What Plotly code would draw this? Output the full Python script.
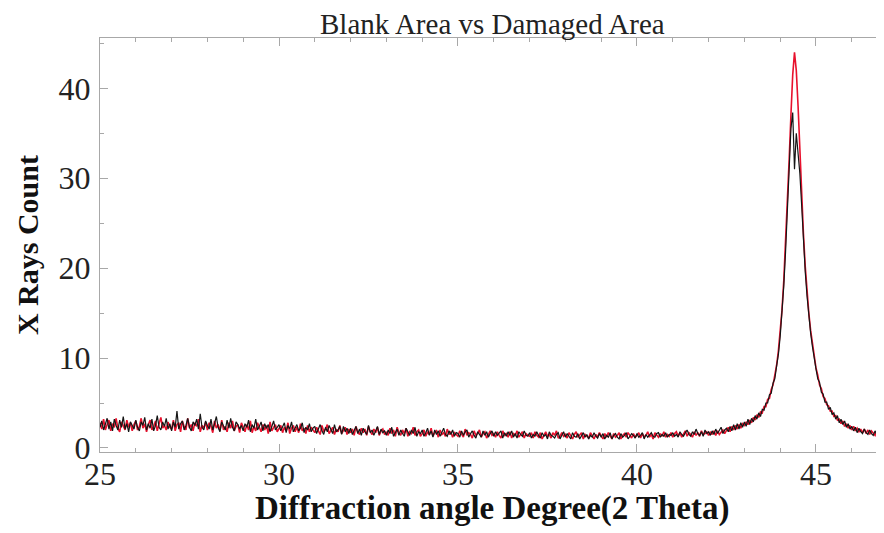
import numpy as np
import plotly.graph_objects as go

# 2-theta grid: 25.00 .. 46.90 deg, step 0.05
x_start = 25.0
x_step = 0.05

# Blank area (red) X-ray counts, one row per degree
blank_counts = [
    2.8, 2.1, 3.2, 2.0, 2.6, 3.1, 1.9, 2.7, 2.3, 3.3, 2.2, 1.8, 2.9, 2.5, 2.0, 3.1, 2.3, 2.8, 1.9, 2.6,
    3.0, 2.0, 2.4, 3.3, 2.2, 2.7, 1.8, 2.6, 3.1, 2.0, 2.4, 3.0, 1.9, 2.7, 3.4, 2.2, 2.5, 2.0, 2.9, 2.3,
    2.1, 3.1, 1.9, 2.6, 2.8, 1.8, 3.0, 2.4, 2.0, 3.3, 2.2, 2.6, 1.9, 2.8, 2.4, 3.2, 1.8, 2.5, 2.2, 2.9,
    2.0, 2.8, 2.4, 1.7, 3.0, 2.2, 2.6, 1.9, 3.1, 2.0, 2.4, 1.8, 2.8, 2.2, 3.0, 1.9, 2.4, 2.6, 1.7, 2.8,
    2.2, 1.8, 2.6, 2.0, 3.0, 1.7, 2.4, 1.9, 2.8, 2.2, 1.8, 2.6, 2.0, 2.5, 1.6, 2.9, 1.9, 2.3, 2.6, 1.8,
    2.1, 2.5, 1.7, 2.3, 1.9, 2.8, 1.6, 2.2, 2.5, 1.8, 2.3, 1.7, 2.7, 1.9, 2.2, 1.6, 2.5, 1.8, 2.3, 2.0,
    1.7, 2.3, 1.9, 1.5, 2.5, 1.8, 2.1, 2.6, 1.6, 2.0, 2.3, 1.5, 2.1, 1.8, 2.5, 1.6, 2.0, 2.3, 1.5, 2.1,
    1.7, 2.1, 1.4, 2.4, 1.8, 1.5, 2.2, 1.7, 2.1, 1.4, 2.4, 1.8, 1.5, 2.1, 1.7, 2.3, 1.4, 1.9, 2.1, 1.5,
    1.8, 1.4, 2.2, 1.6, 2.0, 1.3, 2.3, 1.7, 1.4, 2.0, 1.6, 2.2, 1.3, 1.8, 1.6, 2.3, 1.4, 1.8, 2.0, 1.3,
    1.6, 2.0, 1.3, 1.8, 1.5, 2.2, 1.3, 1.7, 1.9, 1.2, 2.0, 1.5, 1.7, 1.3, 2.1, 1.5, 1.8, 1.2, 1.7, 1.5,
    1.3, 1.9, 1.5, 1.2, 2.1, 1.4, 1.7, 1.5, 1.1, 1.9, 1.4, 1.6, 2.0, 1.2, 1.6, 1.8, 1.1, 1.6, 1.9, 1.4,
    1.6, 1.2, 1.8, 1.4, 1.1, 1.9, 1.4, 1.6, 1.2, 1.8, 1.1, 1.6, 1.4, 1.9, 1.2, 1.5, 1.8, 1.1, 1.6, 1.4,
    1.3, 1.7, 1.1, 1.8, 1.4, 1.2, 1.7, 1.0, 1.5, 1.8, 1.3, 1.5, 1.1, 1.7, 1.4, 1.9, 1.1, 1.3, 1.7, 1.3,
    1.5, 1.1, 1.7, 1.3, 1.0, 1.5, 1.8, 1.2, 1.4, 1.7, 1.0, 1.5, 1.3, 1.1, 1.7, 1.4, 1.0, 1.5, 1.2, 1.7,
    1.4, 1.0, 1.6, 1.2, 1.7, 1.4, 1.0, 1.6, 1.2, 1.4, 1.7, 1.0, 1.4, 1.6, 1.2, 1.7, 1.4, 1.1, 1.6, 1.2,
    1.4, 1.7, 1.1, 1.6, 1.2, 1.4, 1.8, 1.2, 1.5, 1.0, 1.7, 1.4, 1.2, 1.6, 1.3, 1.8, 1.2, 1.5, 1.3, 1.7,
    1.2, 1.6, 1.8, 1.3, 1.7, 1.2, 1.5, 1.9, 1.3, 1.7, 1.5, 1.2, 1.8, 1.4, 1.7, 1.3, 1.9, 1.5, 1.6, 1.8,
    1.4, 1.8, 1.5, 1.9, 1.4, 1.9, 1.5, 1.8, 2.0, 1.6, 2.0, 2.3, 1.8, 2.4, 2.0, 2.5, 2.1, 2.6, 2.2, 2.7,
    2.5, 2.9, 2.6, 3.1, 2.8, 3.4, 3.1, 3.7, 3.4, 4.0, 3.9, 4.6, 4.6, 5.4, 5.5, 6.5, 7.0, 8.1, 9.2, 10.8,
    12.8, 15.3, 18.6, 22.6, 27.2, 32.0, 37.0, 41.5, 44.0, 42.0, 38.0, 33.0, 28.0, 23.8, 20.2, 17.3, 15.0, 13.1, 11.5, 10.1,
    8.9, 8.1, 7.0, 6.6, 5.7, 5.5, 4.8, 4.7, 4.1, 4.1, 3.5, 3.6, 3.1, 3.2, 2.7, 3.0, 2.4, 2.7, 2.2, 2.5,
    2.0, 2.4, 1.9, 2.2, 1.8, 2.1, 1.7, 2.1, 1.6, 2.0, 1.5, 1.9, 1.6, 1.4, 1.9, 1.5, 1.8, 1.4, 1.6,
]

# Damaged area (black) X-ray counts, one row per degree
damaged_counts = [
    2.3, 3.0, 2.0, 2.7, 3.3, 2.1, 2.9, 1.9, 3.2, 2.5, 2.0, 3.1, 2.3, 3.5, 2.1, 2.7, 1.8, 2.9, 2.5, 2.1,
    3.1, 2.3, 1.9, 2.9, 2.5, 3.4, 2.0, 2.7, 2.2, 3.2, 1.9, 2.5, 3.6, 2.3, 2.0, 2.9, 2.4, 3.3, 2.1, 2.7,
    1.9, 2.9, 2.3, 4.1, 2.1, 2.7, 3.0, 2.0, 2.5, 3.3, 2.3, 1.9, 2.9, 2.5, 3.2, 2.1, 3.8, 2.3, 2.0, 3.0,
    2.5, 2.1, 3.2, 2.0, 2.7, 3.5, 2.3, 1.8, 2.9, 2.5, 2.0, 3.1, 2.2, 3.3, 2.3, 1.9, 2.9, 2.6, 2.1, 2.5,
    1.9, 2.7, 2.3, 3.1, 1.8, 2.6, 2.2, 3.2, 2.0, 2.4, 2.9, 1.9, 2.7, 2.2, 2.6, 1.8, 2.4, 3.0, 2.0, 2.3,
    2.6, 1.9, 2.3, 2.8, 1.7, 2.5, 2.1, 2.9, 1.8, 2.3, 2.6, 1.9, 2.2, 2.8, 1.7, 2.3, 2.0, 2.7, 1.8, 2.2,
    2.4, 1.6, 2.1, 2.6, 1.9, 1.5, 2.3, 1.8, 2.5, 2.1, 1.6, 2.6, 1.8, 2.0, 2.4, 1.5, 2.4, 1.8, 2.2, 1.6,
    2.2, 1.5, 1.9, 2.4, 1.6, 2.1, 1.4, 2.2, 1.8, 1.5, 2.5, 1.7, 2.0, 1.4, 1.9, 2.4, 1.5, 2.1, 1.7, 1.9,
    1.4, 2.0, 1.6, 2.3, 1.3, 1.8, 2.1, 1.4, 2.0, 1.6, 1.3, 2.2, 1.7, 1.4, 2.0, 1.6, 2.3, 1.3, 1.8, 1.6,
    2.0, 1.3, 1.7, 2.2, 1.4, 1.9, 1.2, 2.0, 1.5, 1.9, 1.3, 1.7, 2.2, 1.5, 1.3, 1.9, 1.5, 2.0, 1.3, 1.7,
    1.6, 1.2, 1.9, 1.4, 1.8, 2.0, 1.2, 1.6, 1.9, 1.4, 1.1, 1.8, 1.5, 1.2, 1.9, 1.4, 1.8, 1.2, 1.6, 1.9,
    1.3, 1.8, 1.4, 1.6, 1.9, 1.1, 1.7, 1.3, 1.8, 1.4, 1.9, 1.2, 1.6, 1.1, 1.8, 1.5, 1.3, 1.9, 1.4, 1.3,
    1.7, 1.1, 1.5, 1.3, 1.8, 1.4, 1.1, 1.7, 1.3, 1.5, 1.0, 1.8, 1.4, 1.3, 1.1, 1.5, 1.7, 1.0, 1.5, 1.8,
    1.2, 1.6, 1.3, 1.0, 1.7, 1.3, 1.2, 1.6, 1.0, 1.4, 1.7, 1.2, 1.5, 1.0, 1.4, 1.2, 1.7, 1.3, 1.1, 1.6,
    1.2, 1.6, 1.0, 1.4, 1.2, 1.7, 1.0, 1.4, 1.6, 1.2, 1.0, 1.6, 1.2, 1.4, 1.7, 1.0, 1.3, 1.6, 1.4, 1.1,
    1.6, 1.2, 1.4, 1.7, 1.0, 1.5, 1.2, 1.4, 1.7, 1.3, 1.2, 1.6, 1.7, 1.2, 1.5, 1.3, 1.7, 1.2, 1.5, 1.4,
    1.7, 1.3, 1.5, 1.2, 1.8, 1.5, 1.3, 1.7, 2.0, 1.5, 1.3, 1.8, 1.5, 2.1, 1.6, 1.4, 1.8, 1.3, 2.0, 1.6,
    1.8, 1.4, 1.9, 1.5, 2.1, 1.6, 1.9, 2.3, 1.6, 2.0, 2.2, 1.8, 2.4, 1.9, 2.6, 2.0, 2.7, 2.1, 2.8, 2.3,
    2.9, 2.4, 3.2, 2.6, 3.3, 2.9, 3.6, 3.2, 3.9, 3.5, 4.3, 4.2, 5.0, 5.0, 5.9, 6.1, 7.2, 7.7, 9.1, 10.4,
    12.4, 14.8, 18.0, 21.8, 26.5, 31.0, 35.5, 37.3, 31.0, 35.0, 33.0, 30.5, 27.0, 23.0, 19.6, 16.9, 14.7, 12.8, 11.3, 9.9,
    8.8, 7.7, 7.3, 6.2, 6.0, 5.1, 5.1, 4.3, 4.5, 3.7, 3.9, 3.2, 3.6, 2.8, 3.2, 2.6, 3.0, 2.3, 2.7, 2.1,
    2.4, 1.9, 2.3, 1.7, 2.2, 1.8, 1.6, 2.1, 1.7, 1.5, 2.0, 1.6, 1.4, 1.9, 1.5, 1.3, 1.8, 1.4, 1.6,
]

x_ticks = [25, 30, 35, 40, 45]
y_ticks = [0, 10, 20, 30, 40]

title_text = "Blank Area vs Damaged Area"
x_title = "Diffraction angle Degree(2 Theta)"
y_title = "X Rays Count"

two_theta = np.round(x_start + x_step * np.arange(len(blank_counts)), 2)

SERIF = "Liberation Serif, Times New Roman, serif"

fig = go.Figure()
fig.add_trace(go.Scatter(x=two_theta, y=blank_counts, mode="lines", name="Blank Area",
                         line=dict(color="#e8112d", width=1.6)))
fig.add_trace(go.Scatter(x=two_theta, y=damaged_counts, mode="lines", name="Damaged Area",
                         line=dict(color="#151515", width=1.2)))

axis_common = dict(
    showgrid=False, zeroline=False, showline=True, linecolor="#a8a8a8", linewidth=1,
    mirror="ticks", ticks="inside", tickcolor="#a8a8a8", ticklen=8, tickwidth=1,
    tickfont=dict(family=SERIF, size=32, color="#222"), automargin=False,
)

# the page body adds an 8px offset, so the figure is sized to fit inside the window
fig.update_layout(
    width=876, height=525,
    margin=dict(l=92, r=0, t=30, b=81),
    paper_bgcolor="white", plot_bgcolor="white",
    showlegend=False,
    xaxis=dict(range=[25, 46.9], tickvals=x_ticks, ticklabelstandoff=-6,
               minor=dict(dtick=1, ticks="inside", ticklen=4, tickcolor="#a8a8a8"),
               **axis_common),
    yaxis=dict(range=[-0.45, 45.6], tickvals=y_ticks, ticklabelstandoff=2,
               minor=dict(dtick=5, ticks="inside", ticklen=4, tickcolor="#a8a8a8"),
               **axis_common),
    annotations=[
        dict(text=title_text, xref="paper", yref="paper", x=0.5, y=1.034,
             xanchor="center", yanchor="middle", showarrow=False,
             font=dict(family=SERIF, size=29, color="#222")),
        dict(text="<b>" + x_title + "</b>", xref="paper", yref="paper", x=0.5, y=-0.137,
             xanchor="center", yanchor="middle", showarrow=False,
             font=dict(family=SERIF, size=33, color="#111")),
        dict(text="<b>" + y_title + "</b>", xref="paper", yref="paper", x=-0.093, y=0.5,
             xanchor="center", yanchor="middle", showarrow=False, textangle=-90,
             font=dict(family=SERIF, size=30, color="#111")),
    ],
)

fig.write_html("out.html")
